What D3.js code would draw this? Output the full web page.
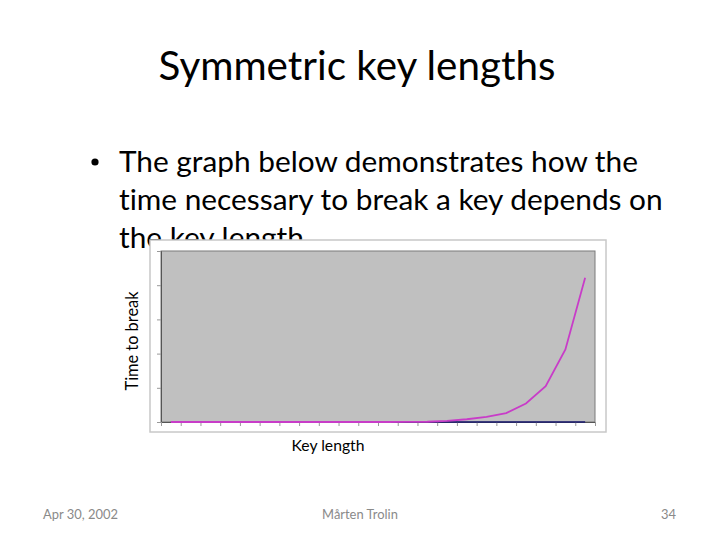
<!DOCTYPE html>
<html>
<head>
<meta charset="utf-8">
<script src="https://cdn.jsdelivr.net/npm/d3@7"></script>
<style>
  html, body { margin: 0; padding: 0; background: #fff; }
  svg { display: block; font-family: Lato, "Open Sans", sans-serif; font-variant-ligatures: none; }
</style>
</head>
<body>
<svg id="slide" width="720" height="540"></svg>
<script>
// Key length vs. time to break (no axis labels in the original)
const keyLengths = [1, 2, 3, 4, 5, 6, 7, 8, 9, 10, 11, 12, 13, 14, 15, 16, 17, 18, 19, 20, 21, 22];
const timeToBreak = [0, 0, 0, 0, 0, 0, 0, 0, 0, 0, 0, 0, 0.002, 0.008, 0.03, 0.08, 0.15, 0.26, 0.54, 1.05, 2.12, 4.22];
const baseline = [0, 0, 0, 0, 0, 0, 0, 0, 0, 0, 0, 0, 0, 0, 0, 0, 0, 0, 0, 0, 0, 0];
const yTicks = [0, 1, 2, 3, 4, 5];

const svg = d3.select('#slide');

// shrink/grow a text node so it spans a given width
const fitWidth = (sel, w) => {
  const fs = parseFloat(sel.attr('font-size'));
  const cur = sel.node().getComputedTextLength();
  sel.attr('font-size', (fs * w / cur).toFixed(2));
};

// title
const title = svg.append('text')
  .attr('x', 357).attr('y', 80)
  .attr('text-anchor', 'middle')
  .attr('font-size', 44)
  .attr('fill', '#000')
  .text('Symmetric key lengths');
fitWidth(title, 397);

// bullet text
svg.append('circle')
  .attr('cx', 95).attr('cy', 162).attr('r', 3.6)
  .attr('fill', '#000');
const bulletLines = [
  'The graph below demonstrates how the',
  'time necessary to break a key depends on',
  'the key length.'
];
const bl = svg.selectAll('text.bullet')
  .data(bulletLines)
  .join('text')
  .attr('class', 'bullet')
  .attr('x', 119)
  .attr('y', (d, i) => 172 + i * 38)
  .attr('font-size', 28)
  .attr('fill', '#000')
  .text(d => d);
// use line 1 to pick the size, then apply to all
const line1 = d3.select(bl.nodes()[0]);
fitWidth(line1, 519);
bl.attr('font-size', line1.attr('font-size'));

// chart box
const frame = { x: 150, y: 240, w: 456, h: 192 };
const margin = { top: 11, right: 11, bottom: 10, left: 11 };

svg.append('rect')
  .attr('x', frame.x).attr('y', frame.y)
  .attr('width', frame.w).attr('height', frame.h)
  .attr('fill', '#fff')
  .attr('stroke', '#c8c8c8')
  .attr('stroke-width', 1.5);

const width = frame.w - margin.left - margin.right,
  height = frame.h - margin.top - margin.bottom;

const graph = svg.append('g')
  .attr('transform', 'translate(' + (frame.x + margin.left) + ',' + (frame.y + margin.top) + ')');

const x = d3.scaleBand().domain(keyLengths).range([0, width]).padding(0);
const y = d3.scaleLinear().domain([0, 5]).range([height, 0]);

graph.append('rect')
  .attr('width', width).attr('height', height)
  .attr('fill', '#c0c0c0')
  .attr('stroke', '#7a7a7a')
  .attr('stroke-width', 1);

// y axis: ticks, no labels
graph.append('g')
  .attr('class', 'axis axis--y')
  .call(d3.axisLeft(y).tickValues(yTicks).tickSize(4).tickFormat(''))
  .call(g => g.select('.domain').attr('stroke', '#555'))
  .call(g => g.selectAll('.tick line').attr('stroke', '#999'));

// x axis: ticks at category boundaries
const bounds = keyLengths.map(k => x(k)).concat([width]);
const xb = d3.scaleLinear().domain([0, width]).range([0, width]);
graph.append('g')
  .attr('class', 'axis axis--x')
  .attr('transform', 'translate(0,' + height + ')')
  .call(d3.axisBottom(xb).tickValues(bounds).tickSize(4).tickFormat(''))
  .call(g => g.select('.domain').attr('stroke', '#555'))
  .call(g => g.selectAll('.tick line').attr('stroke', '#999'));

const line = d3.line()
  .x((d, i) => x(keyLengths[i]) + x.bandwidth() / 2)
  .y(d => y(d));

graph.append('path')
  .datum(baseline)
  .attr('fill', 'none')
  .attr('stroke', '#1a1a70')
  .attr('stroke-width', 1.5)
  .attr('d', line);

graph.append('path')
  .datum(timeToBreak)
  .attr('fill', 'none')
  .attr('stroke', '#c83cc8')
  .attr('stroke-width', 1.8)
  .attr('d', line);

// axis titles
const yl = svg.append('text')
  .attr('transform', 'translate(138,341) rotate(-90)')
  .attr('text-anchor', 'middle')
  .attr('font-size', 14)
  .text('Time to break');
fitWidth(yl, 99);

const xl = svg.append('text')
  .attr('x', 328).attr('y', 451)
  .attr('text-anchor', 'middle')
  .attr('font-size', 15)
  .text('Key length');
fitWidth(xl, 73);

// footer
const foot = [
  { t: 'Apr 30, 2002', x: 43, a: 'start' },
  { t: 'Mårten Trolin', x: 360, a: 'middle' },
  { t: '34', x: 676, a: 'end' }
];
const ft = svg.selectAll('text.foot')
  .data(foot)
  .join('text')
  .attr('class', 'foot')
  .attr('x', d => d.x).attr('y', 519)
  .attr('text-anchor', d => d.a)
  .attr('font-size', 11)
  .attr('fill', '#8a8a8a')
  .text(d => d.t);
const f0 = d3.select(ft.nodes()[0]);
fitWidth(f0, 75);
ft.attr('font-size', f0.attr('font-size'));
</script>
</body>
</html>
